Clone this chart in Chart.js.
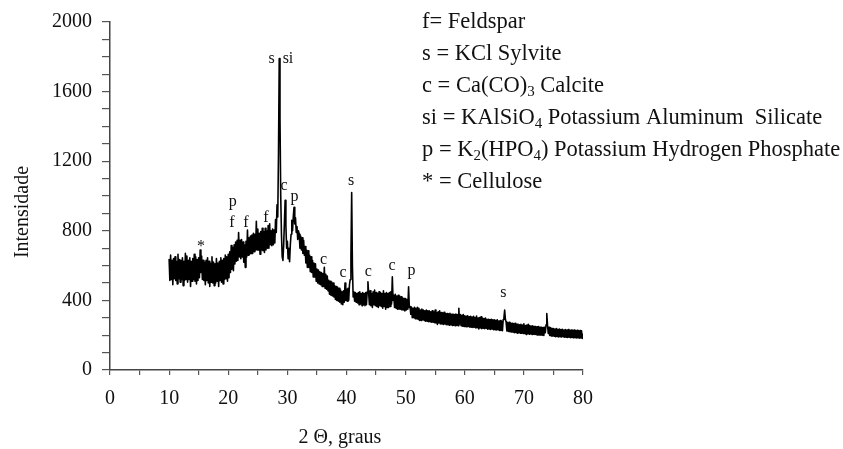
<!DOCTYPE html>
<html><head><meta charset="utf-8">
<script src="https://cdn.jsdelivr.net/npm/chart.js@4.4.0/dist/chart.umd.min.js"></script>
<style>html,body{margin:0;padding:0;background:#fff}#wrap{width:843px;height:449px;position:relative}</style>
</head><body><div id="wrap"><canvas id="c" width="843" height="449"></canvas></div>
<script>
// 2θ (degrees), one row per degree
const twoTheta = [
10,10.125,10.25,10.375,10.5,10.625,10.75,10.875,
11,11.125,11.25,11.375,11.5,11.625,11.75,11.875,
12,12.125,12.25,12.375,12.5,12.625,12.75,12.875,
13,13.125,13.25,13.375,13.5,13.625,13.75,13.875,
14,14.125,14.25,14.375,14.5,14.625,14.75,14.875,
15,15.125,15.25,15.375,15.5,15.625,15.75,15.875,
16,16.125,16.25,16.375,16.5,16.625,16.75,16.875,
17,17.125,17.25,17.375,17.5,17.625,17.75,17.875,
18,18.125,18.25,18.375,18.5,18.625,18.75,18.875,
19,19.125,19.25,19.375,19.5,19.625,19.75,19.875,
20,20.125,20.25,20.375,20.5,20.625,20.75,20.875,
21,21.125,21.25,21.375,21.5,21.625,21.75,21.875,
22,22.125,22.25,22.375,22.5,22.625,22.75,22.875,
23,23.125,23.25,23.375,23.5,23.625,23.75,23.875,
24,24.125,24.25,24.375,24.5,24.625,24.75,24.875,
25,25.125,25.25,25.375,25.5,25.625,25.75,25.875,
26,26.125,26.25,26.375,26.5,26.625,26.75,26.875,
27,27.125,27.25,27.375,27.5,27.625,27.75,27.875,
28,28.125,28.25,28.375,28.5,28.625,28.75,28.875,
29,29.125,29.25,29.375,29.5,29.625,29.75,29.875,
30,30.125,30.25,30.375,30.5,30.625,30.75,30.875,
31,31.125,31.25,31.375,31.5,31.625,31.75,31.875,
32,32.125,32.25,32.375,32.5,32.625,32.75,32.875,
33,33.125,33.25,33.375,33.5,33.625,33.75,33.875,
34,34.125,34.25,34.375,34.5,34.625,34.75,34.875,
35,35.125,35.25,35.375,35.5,35.625,35.75,35.875,
36,36.125,36.25,36.375,36.5,36.625,36.75,36.875,
37,37.125,37.25,37.375,37.5,37.625,37.75,37.875,
38,38.125,38.25,38.375,38.5,38.625,38.75,38.875,
39,39.125,39.25,39.375,39.5,39.625,39.75,39.875,
40,40.125,40.25,40.375,40.5,40.625,40.75,40.875,
41,41.125,41.25,41.375,41.5,41.625,41.75,41.875,
42,42.125,42.25,42.375,42.5,42.625,42.75,42.875,
43,43.125,43.25,43.375,43.5,43.625,43.75,43.875,
44,44.125,44.25,44.375,44.5,44.625,44.75,44.875,
45,45.125,45.25,45.375,45.5,45.625,45.75,45.875,
46,46.125,46.25,46.375,46.5,46.625,46.75,46.875,
47,47.125,47.25,47.375,47.5,47.625,47.75,47.875,
48,48.125,48.25,48.375,48.5,48.625,48.75,48.875,
49,49.125,49.25,49.375,49.5,49.625,49.75,49.875,
50,50.125,50.25,50.375,50.5,50.625,50.75,50.875,
51,51.125,51.25,51.375,51.5,51.625,51.75,51.875,
52,52.125,52.25,52.375,52.5,52.625,52.75,52.875,
53,53.125,53.25,53.375,53.5,53.625,53.75,53.875,
54,54.125,54.25,54.375,54.5,54.625,54.75,54.875,
55,55.125,55.25,55.375,55.5,55.625,55.75,55.875,
56,56.125,56.25,56.375,56.5,56.625,56.75,56.875,
57,57.125,57.25,57.375,57.5,57.625,57.75,57.875,
58,58.125,58.25,58.375,58.5,58.625,58.75,58.875,
59,59.125,59.25,59.375,59.5,59.625,59.75,59.875,
60,60.125,60.25,60.375,60.5,60.625,60.75,60.875,
61,61.125,61.25,61.375,61.5,61.625,61.75,61.875,
62,62.125,62.25,62.375,62.5,62.625,62.75,62.875,
63,63.125,63.25,63.375,63.5,63.625,63.75,63.875,
64,64.125,64.25,64.375,64.5,64.625,64.75,64.875,
65,65.125,65.25,65.375,65.5,65.625,65.75,65.875,
66,66.125,66.25,66.375,66.5,66.625,66.75,66.875,
67,67.125,67.25,67.375,67.5,67.625,67.75,67.875,
68,68.125,68.25,68.375,68.5,68.625,68.75,68.875,
69,69.125,69.25,69.375,69.5,69.625,69.75,69.875,
70,70.125,70.25,70.375,70.5,70.625,70.75,70.875,
71,71.125,71.25,71.375,71.5,71.625,71.75,71.875,
72,72.125,72.25,72.375,72.5,72.625,72.75,72.875,
73,73.125,73.25,73.375,73.5,73.625,73.75,73.875,
74,74.125,74.25,74.375,74.5,74.625,74.75,74.875,
75,75.125,75.25,75.375,75.5,75.625,75.75,75.875,
76,76.125,76.25,76.375,76.5,76.625,76.75,76.875,
77,77.125,77.25,77.375,77.5,77.625,77.75,77.875,
78,78.125,78.25,78.375,78.5,78.625,78.75,78.875,
79,79.125,79.25,79.375,79.5,79.625,79.75,79.875,
80
];
// Intensity (counts), same rows
const intensity = [
635,515,660,520,630,490,640,525,
650,515,625,495,665,525,635,505,
630,520,645,485,625,515,670,520,
655,505,630,520,645,480,625,510,
640,520,665,510,650,495,635,515,
645,530,690,560,655,520,630,515,
620,490,630,515,645,500,625,480,
615,505,650,500,620,485,610,500,
640,510,615,480,625,515,645,505,
630,495,640,520,660,525,650,510,
665,530,680,560,715,580,705,570,
720,610,735,625,745,630,790,650,
745,640,750,650,735,620,720,590,
740,650,805,660,760,665,770,670,
775,670,785,680,780,690,855,690,
810,690,785,665,795,690,815,685,
795,675,815,690,800,700,830,700,
840,720,800,715,810,720,805,730,
865,790,950,880,1250,1790,1450,1000,
780,650,630,720,850,975,830,700,
740,640,700,622,720,780,860,800,
880,935,840,875,790,825,750,800,
780,700,770,690,760,670,745,660,
710,615,690,590,685,590,660,565,
650,560,630,535,615,535,610,510,
580,500,575,495,565,490,560,480,
555,480,590,470,550,465,540,455,
515,435,510,430,505,425,500,420,
485,405,480,400,475,395,470,390,
460,380,450,375,455,390,500,400,
465,395,470,400,490,520,650,1020,
600,420,450,395,445,390,440,385,
445,375,450,380,440,370,445,375,
440,370,445,375,450,507,440,375,
455,370,440,360,450,375,460,370,
445,365,440,360,450,370,445,365,
440,355,455,365,440,350,445,360,
440,360,445,365,450,380,535,400,
430,360,435,355,425,350,430,350,
425,350,420,345,415,345,410,340,
410,345,405,350,478,360,365,320,
360,300,355,300,360,295,355,295,
360,290,355,285,345,285,350,290,
345,285,340,280,345,280,340,278,
340,278,335,275,340,275,335,272,
345,270,330,262,335,270,340,265,
330,265,328,262,332,265,325,260,
325,260,322,258,326,260,320,256,
322,258,318,255,322,258,318,254,
355,265,318,254,315,252,318,250,
312,250,308,248,312,250,306,246,
308,246,305,244,308,246,302,242,
310,243,298,236,302,242,306,238,
298,240,295,237,298,240,292,235,
292,236,290,233,292,236,288,232,
288,232,285,230,288,232,282,228,
284,228,280,226,290,300,345,290,
275,224,272,222,274,220,270,218,
268,218,265,215,268,216,262,212,
264,214,260,212,262,212,258,210,
266,210,255,204,258,210,262,206,
255,208,252,205,254,206,250,204,
250,203,248,200,250,202,245,200,
246,200,244,198,246,215,260,325,
258,210,245,198,242,196,240,195,
238,194,236,192,238,193,234,190,
235,192,232,190,234,191,230,188,
232,189,230,187,232,188,228,186,
230,187,228,185,229,186,226,184,
228,185,226,183,227,184,225,182,
205
];
// Peak identification letters and where they sit (2θ, intensity of text baseline)
const peakNames      = ['*',  'p',   'f',  'f',  'f',   's',   'si', 'c',   'p',  'c',  'c',  's',   'c',  'c',  'p',  's'];
const peakTwoTheta   = [15.4, 20.75, 20.6, 23.0, 26.35, 27.35, 30.1, 29.45, 31.2, 36.1, 39.4, 40.8,  43.7, 47.7, 51.0, 66.55];
const peakIntensity  = [683,  941,   821,  824,  852,   1765,  1765, 1033,  974,  610,  534,  1063,  543,  572,  547,  422];
// Key text (segments; "sub" = subscript)
const keyLines = [
  [{t:'f= Feldspar'}],
  [{t:'s = KCl Sylvite'}],
  [{t:'c = Ca(CO)'},{t:'3',sub:true},{t:' Calcite'}],
  [{t:'si = KAlSiO'},{t:'4',sub:true},{t:' Potassium Aluminum  Silicate'}],
  [{t:'p = K'},{t:'2',sub:true},{t:'(HPO'},{t:'4',sub:true},{t:') Potassium Hydrogen Phosphate'}],
  [{t:'* = Cellulose'}]
];
const xTitle = '2 \u0398, graus';
const yTitle = 'Intensidade';

const SERIF = "'Liberation Serif','Times New Roman',serif";

const annotate = {
  id:'annotate',
  afterDatasetsDraw(chart){
    const ctx = chart.ctx, xs = chart.scales.x, ys = chart.scales.y;
    ctx.save();
    ctx.fillStyle = '#111';
    ctx.font = '16px ' + SERIF;
    ctx.textAlign = 'center';
    ctx.textBaseline = 'alphabetic';
    peakNames.forEach((n,i)=>{
      ctx.fillText(n, xs.getPixelForValue(peakTwoTheta[i]), ys.getPixelForValue(peakIntensity[i]));
    });
    // axis titles
    ctx.font = '20px ' + SERIF;
    ctx.textAlign = 'center';
    ctx.textBaseline = 'middle';
    ctx.fillText(xTitle, 340, 438);
    ctx.save();
    ctx.translate(23, 212);
    ctx.rotate(-Math.PI/2);
    ctx.fillText(yTitle, 0, 0);
    ctx.restore();
    // key
    ctx.textAlign = 'left';
    ctx.textBaseline = 'middle';
    keyLines.forEach((segs,i)=>{
      let x = 422; const y = 22 + i*32;
      segs.forEach(s=>{
        if (s.sub){ ctx.font = '15px ' + SERIF; ctx.fillText(s.t, x, y+6); }
        else { ctx.font = '22.5px ' + SERIF; ctx.fillText(s.t, x, y); }
        x += ctx.measureText(s.t).width;
      });
    });
    ctx.restore();
  }
};

new Chart(document.getElementById('c'), {
  type:'line',
  data:{
    datasets:[{
      data: twoTheta.map((t,i)=>({x:t, y:intensity[i]})),
      borderColor:'#000', borderWidth:1.6, borderJoinStyle:'round', borderCapStyle:'round',
      pointRadius:0, tension:0, fill:false
    }]
  },
  options:{
    responsive:false, animation:false, devicePixelRatio:1,
    layout:{padding:{left:0, top:22, right:260, bottom:0}, autoPadding:false},
    plugins:{legend:{display:false}, tooltip:{enabled:false}, title:{display:false}},
    scales:{
      x:{
        type:'linear', min:0, max:80,
        afterFit(s){ s.height = 79; },
        ticks:{stepSize:5, maxTicksLimit:100, autoSkip:false, maxRotation:0, padding:12, color:'#111',
               font:{family:SERIF, size:20},
               callback:v => (v % 10 === 0 ? String(v) : '')},
        grid:{drawOnChartArea:false, drawTicks:true, tickLength:5, color:'#555', lineWidth:1.2},
        border:{display:true, color:'#444', width:1.5},
        title:{display:false}
      },
      y:{
        min:0, max:2000,
        afterFit(s){ s.width = 110; },
        ticks:{stepSize:100, maxTicksLimit:100, autoSkip:false, padding:10, color:'#111',
               font:{family:SERIF, size:20},
               callback:v => (v % 400 === 0 ? String(v) : '')},
        grid:{drawOnChartArea:false, drawTicks:true, tickLength:8, color:'#555', lineWidth:1.2},
        border:{display:true, color:'#444', width:1.5},
        title:{display:false}
      }
    }
  },
  plugins:[annotate]
});
</script>
</body></html>
